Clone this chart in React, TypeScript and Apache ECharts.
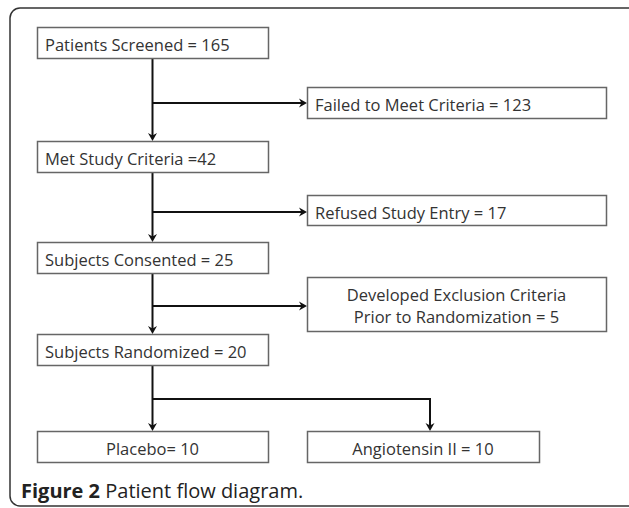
import React, { useEffect, useRef } from "react";
import * as echarts from "echarts";

// ---- data ----
const mainSteps = ["Patients Screened = 165", "Met Study Criteria =42", "Subjects Consented = 25", "Subjects Randomized = 20"];
const exclusions = ["Failed to Meet Criteria = 123", "Refused Study Entry = 17", "Developed Exclusion Criteria\nPrior to Randomization = 5"];
const arms = ["Placebo= 10", "Angiotensin II = 10"];
const captionBold = "Figure 2";
const captionRest = " Patient flow diagram.";

// ---- layout ----
const FONT = "16.5px 'Open Sans'";
const TEXT_COLOR = "#333";
const BOX_STROKE = "#666";
const LINE = "#111";
const mainX = 37, mainW = 231, mainH = 31;
const mainTops = [27, 141, 242, 334];
const exX = 307, exW = 299;
const exBoxes = [[87, 31], [195, 30], [277, 54]];
const branchYs = [103, 212, 306];
const stemX = 152.5;
const armBoxes = [[37, 231], [307, 232]];
const armTop = 431, armH = 31, armBranchY = 399;
const armArrowX = [152.5, 430];

function arrowHeadDown(x: number, y: number) {
  return { type: "polygon", shape: { points: [[x - 4.5, y - 8], [x, y - 5.5], [x + 4.5, y - 8], [x, y]] }, style: { fill: LINE } };
}
function arrowHeadRight(x: number, y: number) {
  return { type: "polygon", shape: { points: [[x - 8, y - 4.5], [x - 5.5, y], [x - 8, y + 4.5], [x, y]] }, style: { fill: LINE } };
}
function line(x1: number, y1: number, x2: number, y2: number) {
  return { type: "line", shape: { x1, y1, x2, y2 }, style: { stroke: LINE, lineWidth: 2 } };
}
function box(x: number, y: number, w: number, h: number) {
  return { type: "rect", shape: { x: x + 0.5, y: y + 0.5, width: w, height: h }, style: { fill: "#fff", stroke: BOX_STROKE, lineWidth: 1.5 } };
}
function text(t: string, x: number, y: number, align: string) {
  return {
    type: "text",
    style: { text: t, x, y, font: FONT, fill: TEXT_COLOR, align, verticalAlign: "middle", textAlign: align, textVerticalAlign: "middle", lineHeight: 22 },
  };
}

export default function App() {
  const ref = useRef<HTMLDivElement>(null);
  useEffect(() => {
    if (!ref.current) return;
    const chart = echarts.init(ref.current, null, { renderer: "svg" });
    const els: any[] = [];
    els.push({ type: "rect", shape: { x: 10, y: 8, width: 640, height: 498, r: 10 }, style: { fill: "none", stroke: "#333", lineWidth: 1.5 } });
    // main stem lines
    for (let i = 0; i < mainSteps.length - 1; i++) {
      const y1 = mainTops[i] + mainH;
      const y2 = mainTops[i + 1];
      els.push(line(stemX, y1, stemX, y2 - 3));
      els.push(arrowHeadDown(stemX, y2));
      els.push(line(stemX, branchYs[i], exX - 3, branchYs[i]));
      els.push(arrowHeadRight(exX, branchYs[i]));
    }
    // arms
    const lastBottom = mainTops[mainTops.length - 1] + mainH;
    els.push(line(stemX, lastBottom, stemX, armTop - 3));
    els.push(line(stemX, armBranchY, armArrowX[1], armBranchY));
    els.push(line(armArrowX[1], armBranchY - 1, armArrowX[1], armTop - 3));
    armArrowX.forEach((x) => els.push(arrowHeadDown(x, armTop)));
    // main boxes
    mainSteps.forEach((s, i) => {
      els.push(box(mainX, mainTops[i], mainW, mainH));
      els.push(text(s, mainX + 8, mainTops[i] + mainH / 2 + 2, "left"));
    });
    exclusions.forEach((s, i) => {
      const [y, h] = exBoxes[i];
      els.push(box(exX, y, exW, h));
      if (s.includes("\n")) els.push(text(s, exX + exW / 2, y + h / 2 + 1, "center"));
      else els.push(text(s, exX + 8, y + h / 2 + 2, "left"));
    });
    arms.forEach((s, i) => {
      const [x, w] = armBoxes[i];
      els.push(box(x, armTop, w, armH));
      els.push(text(s, x + w / 2, armTop + armH / 2 + 2, "center"));
    });
    els.push({
      type: "text",
      style: {
        text: "{b|" + captionBold + "}" + captionRest,
        x: 21, y: 490,
        font: "20px 'Open Sans'",
        fill: "#222",
        verticalAlign: "middle", textVerticalAlign: "middle",
        rich: { b: { fontWeight: "bold", fontSize: 20, fontFamily: "Open Sans", fill: "#222", color: "#222" } },
      },
    });
    chart.setOption({ animation: false, graphic: { elements: els } });
    return () => chart.dispose();
  }, []);
  return <div ref={ref} style={{ width: 629, height: 508, position: "absolute", left: 0, top: 0 }} />;
}
